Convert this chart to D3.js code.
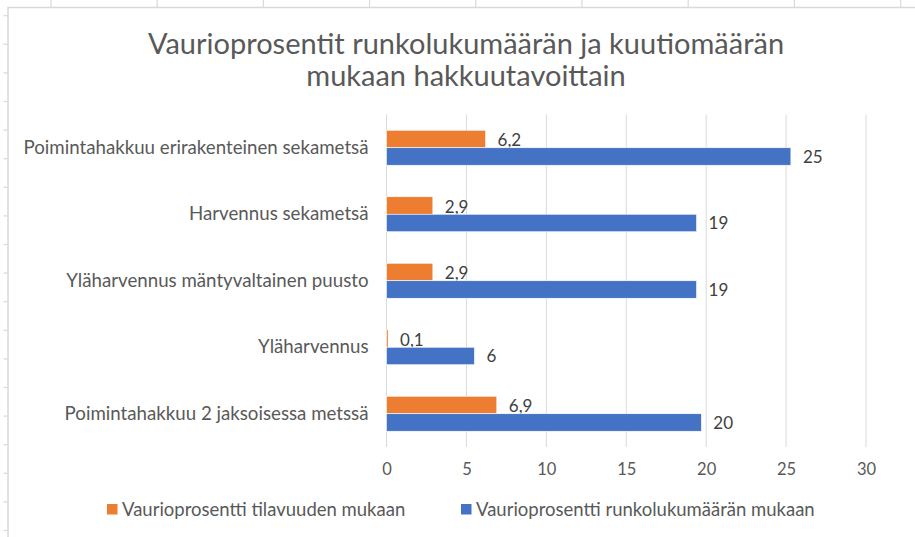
<!DOCTYPE html>
<html>
<head>
<meta charset="utf-8">
<script src="https://cdn.jsdelivr.net/npm/d3@7"></script>
<style>
  html, body { margin: 0; padding: 0; background: #fff; }
  svg { display: block; font-family: Lato, 'Open Sans', sans-serif; }
  .lbl { fill: #595959; }
  .dlbl { fill: #404040; }
</style>
</head>
<body>
<svg id="chart" width="915" height="537"></svg>
<script>
// Damage percentages by harvest method, two series per category.
var categories = [
    'Poimintahakkuu erirakenteinen sekametsä',
    'Harvennus sekametsä',
    'Yläharvennus mäntyvaltainen puusto',
    'Yläharvennus',
    'Poimintahakkuu 2 jaksoisessa metssä '
];
var seriesNames = [
    'Vaurioprosentti tilavuuden mukaan',
    'Vaurioprosentti runkolukumäärän mukaan'
];
var volumeValues = [6.2, 2.9, 2.9, 0.1, 6.9];
var stemValues = [25.3, 19.4, 19.4, 5.5, 19.7];
var xTicks = [0, 5, 10, 15, 20, 25, 30];
var titleLines = ['Vaurioprosentit runkolukumäärän ja kuutiomäärän', 'mukaan hakkuutavoittain'];

var colors = ['#ED7D31', '#4472C4'];

(function () {
    var svg = d3.select('#chart');
    var W = 915, H = 537;
    var m = { left: 386.5, right: 49, top: 114.5, bottom: 90 };

    // sheet cell borders peeking out around the chart area
    var sheet = svg.append('g').attr('stroke', '#d9d9d9').attr('stroke-width', 1.2);
    d3.range(15.7, H, 28.6).forEach(function (y) {
        sheet.append('line').attr('x1', 3.5).attr('x2', 8).attr('y1', y).attr('y2', y);
    });
    d3.range(51, W, 106.2).forEach(function (x) {
        sheet.append('line').attr('x1', x).attr('x2', x).attr('y1', 0).attr('y2', 7);
    });
    // chart area border
    svg.append('path')
        .attr('d', 'M8,' + H + 'V7.5H' + W)
        .attr('fill', 'none').attr('stroke', '#d9d9d9').attr('stroke-width', 1.5);

    var x = d3.scaleLinear().domain([0, 30]).range([m.left, W - m.right]);
    var y = d3.scaleBand().domain(categories).range([m.top, H - m.bottom])
        .paddingInner(0.474).paddingOuter(0.237);
    var ySub = d3.scaleBand().domain([0, 1]).range([0, y.bandwidth()]);

    // gridlines
    var grid = svg.append('g');
    xTicks.forEach(function (t) {
        grid.append('line')
            .attr('x1', x(t)).attr('x2', x(t))
            .attr('y1', m.top).attr('y2', H - m.bottom)
            .attr('stroke', '#d9d9d9').attr('stroke-width', 1);
    });

    var ax = svg.append('g')
        .attr('transform', 'translate(0,' + (H - m.bottom) + ')')
        .call(d3.axisBottom(x).tickValues(xTicks).tickSize(0).tickPadding(16));
    ax.select('.domain').remove();
    ax.selectAll('text').attr('class', 'lbl').attr('font-size', 16.5)
        .attr('font-family', 'Lato, sans-serif');

    var ay = svg.append('g')
        .attr('transform', 'translate(' + (m.left - 18) + ',0)')
        .call(d3.axisLeft(y).tickSize(0).tickPadding(0));
    ay.select('.domain').remove();
    ay.selectAll('text').attr('class', 'lbl').attr('font-size', 18.7)
        .attr('font-family', 'Lato, sans-serif');

    var data = [volumeValues, stemValues];
    var fmt = [
        function (v) { return v.toFixed(1).replace('.', ','); },
        function (v) { return String(Math.round(v)); }
    ];

    data.forEach(function (vals, s) {
        var g = svg.append('g');
        g.selectAll('rect').data(vals).enter().append('rect')
            .attr('x', x(0))
            .attr('y', function (d, i) { return y(categories[i]) + ySub(s); })
            .attr('width', function (d) { return x(d) - x(0); })
            .attr('height', ySub.bandwidth())
            .attr('fill', colors[s])
            .attr('stroke', '#fff').attr('stroke-width', 0.6);
        g.selectAll('text').data(vals).enter().append('text')
            .attr('class', 'dlbl')
            .attr('x', function (d) { return x(d) + 12; })
            .attr('y', function (d, i) { return y(categories[i]) + ySub(s) + ySub.bandwidth() / 2 + (s === 0 ? 1.5 : 0.5); })
            .attr('dy', '0.35em')
            .attr('font-size', 17)
            .text(function (d) { return fmt[s](d); });
    });

    // title
    svg.append('text')
        .attr('class', 'lbl')
        .attr('x', 466).attr('y', 54)
        .attr('text-anchor', 'middle')
        .attr('font-size', 29)
        .selectAll('tspan').data(titleLines).enter().append('tspan')
        .attr('x', 466)
        .attr('dy', function (d, i) { return i === 0 ? 0 : 32; })
        .text(function (d) { return d; });

    // legend
    var legX = [107, 461];
    seriesNames.forEach(function (name, s) {
        var lg = svg.append('g').attr('transform', 'translate(' + legX[s] + ',504)');
        lg.append('rect').attr('width', 10.5).attr('height', 10.5).attr('fill', colors[s]);
        lg.append('text').attr('class', 'lbl')
            .attr('x', 15).attr('y', 5.5).attr('dy', '0.35em')
            .attr('font-size', 18.5)
            .text(name);
    });
})();
</script>
</body>
</html>
